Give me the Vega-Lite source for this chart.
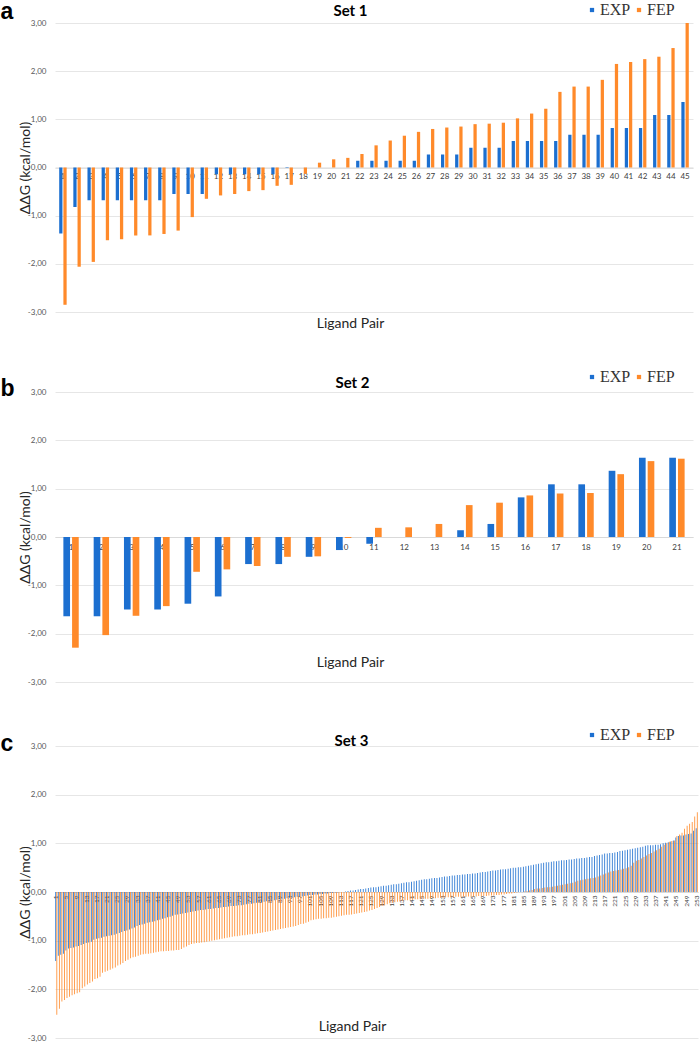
{
"$schema": "https://vega.github.io/schema/vega-lite/v6.json",
"autosize": {"type": "pad"},
"padding": {"left": 0, "top": -43, "right": 0, "bottom": 0},
"background": "white",
"bounds": "flush",
"spacing": 64,
"config": {"view": {"stroke": null}, "font": "Lato", "axis": {"labelFont": "Lato", "titleFont": "Lato"}},
"resolve": {"legend": {"color": "independent"}},
"datasets": {
"s1": [
{"pair":1,"EXP":-1.37,"FEP":-2.85},{"pair":2,"EXP":-0.82,"FEP":-2.06},{"pair":3,"EXP":-0.68,"FEP":-1.96},{"pair":4,"EXP":-0.68,"FEP":-1.51},{"pair":5,"EXP":-0.68,"FEP":-1.49},
{"pair":6,"EXP":-0.68,"FEP":-1.41},{"pair":7,"EXP":-0.68,"FEP":-1.41},{"pair":8,"EXP":-0.68,"FEP":-1.38},{"pair":9,"EXP":-0.55,"FEP":-1.31},{"pair":10,"EXP":-0.55,"FEP":-1.03},
{"pair":11,"EXP":-0.55,"FEP":-0.65},{"pair":12,"EXP":-0.14,"FEP":-0.58},{"pair":13,"EXP":-0.14,"FEP":-0.55},{"pair":14,"EXP":-0.14,"FEP":-0.49},{"pair":15,"EXP":-0.14,"FEP":-0.47},
{"pair":16,"EXP":-0.14,"FEP":-0.38},{"pair":17,"EXP":-0.01,"FEP":-0.36},{"pair":18,"EXP":0,"FEP":-0.13},{"pair":19,"EXP":0,"FEP":0.10},{"pair":20,"EXP":0,"FEP":0.17},
{"pair":21,"EXP":0,"FEP":0.20},{"pair":22,"EXP":0.14,"FEP":0.28},{"pair":23,"EXP":0.14,"FEP":0.46},{"pair":24,"EXP":0.14,"FEP":0.56},{"pair":25,"EXP":0.14,"FEP":0.66},
{"pair":26,"EXP":0.14,"FEP":0.74},{"pair":27,"EXP":0.27,"FEP":0.80},{"pair":28,"EXP":0.27,"FEP":0.83},{"pair":29,"EXP":0.27,"FEP":0.85},{"pair":30,"EXP":0.41,"FEP":0.90},
{"pair":31,"EXP":0.41,"FEP":0.91},{"pair":32,"EXP":0.41,"FEP":0.93},{"pair":33,"EXP":0.55,"FEP":1.02},{"pair":34,"EXP":0.55,"FEP":1.12},{"pair":35,"EXP":0.55,"FEP":1.22},
{"pair":36,"EXP":0.55,"FEP":1.57},{"pair":37,"EXP":0.68,"FEP":1.68},{"pair":38,"EXP":0.68,"FEP":1.68},{"pair":39,"EXP":0.68,"FEP":1.82},{"pair":40,"EXP":0.82,"FEP":2.15},
{"pair":41,"EXP":0.82,"FEP":2.19},{"pair":42,"EXP":0.82,"FEP":2.25},{"pair":43,"EXP":1.09,"FEP":2.30},{"pair":44,"EXP":1.09,"FEP":2.48},{"pair":45,"EXP":1.36,"FEP":3.00}
],
"s2": [
{"pair":1,"EXP":-1.64,"FEP":-2.29},{"pair":2,"EXP":-1.64,"FEP":-2.03},{"pair":3,"EXP":-1.50,"FEP":-1.63},{"pair":4,"EXP":-1.50,"FEP":-1.43},{"pair":5,"EXP":-1.38,"FEP":-0.72},
{"pair":6,"EXP":-1.23,"FEP":-0.67},{"pair":7,"EXP":-0.56,"FEP":-0.60},{"pair":8,"EXP":-0.56,"FEP":-0.41},{"pair":9,"EXP":-0.41,"FEP":-0.40},{"pair":10,"EXP":-0.27,"FEP":-0.02},
{"pair":11,"EXP":-0.14,"FEP":0.19},{"pair":12,"EXP":0,"FEP":0.20},{"pair":13,"EXP":0,"FEP":0.27},{"pair":14,"EXP":0.14,"FEP":0.66},{"pair":15,"EXP":0.27,"FEP":0.71},
{"pair":16,"EXP":0.82,"FEP":0.86},{"pair":17,"EXP":1.09,"FEP":0.90},{"pair":18,"EXP":1.09,"FEP":0.91},{"pair":19,"EXP":1.37,"FEP":1.30},{"pair":20,"EXP":1.64,"FEP":1.57},
{"pair":21,"EXP":1.64,"FEP":1.62}
],
"s3": [
{"pair":1,"EXP":-1.42,"FEP":-2.52},{"pair":2,"EXP":-1.31,"FEP":-2.40},{"pair":3,"EXP":-1.29,"FEP":-2.25},{"pair":4,"EXP":-1.27,"FEP":-2.22},{"pair":5,"EXP":-1.20,"FEP":-2.18},
{"pair":6,"EXP":-1.16,"FEP":-2.15},{"pair":7,"EXP":-1.15,"FEP":-2.12},{"pair":8,"EXP":-1.14,"FEP":-2.10},{"pair":9,"EXP":-1.12,"FEP":-2.08},{"pair":10,"EXP":-1.11,"FEP":-2.06},
{"pair":11,"EXP":-1.09,"FEP":-1.98},{"pair":12,"EXP":-1.07,"FEP":-1.94},{"pair":13,"EXP":-1.05,"FEP":-1.90},{"pair":14,"EXP":-1.04,"FEP":-1.87},{"pair":15,"EXP":-1.02,"FEP":-1.84},
{"pair":16,"EXP":-0.98,"FEP":-1.79},{"pair":17,"EXP":-0.96,"FEP":-1.77},{"pair":18,"EXP":-0.95,"FEP":-1.74},{"pair":19,"EXP":-0.94,"FEP":-1.66},{"pair":20,"EXP":-0.92,"FEP":-1.64},
{"pair":21,"EXP":-0.91,"FEP":-1.62},{"pair":22,"EXP":-0.90,"FEP":-1.60},{"pair":23,"EXP":-0.89,"FEP":-1.57},{"pair":24,"EXP":-0.88,"FEP":-1.55},{"pair":25,"EXP":-0.86,"FEP":-1.51},
{"pair":26,"EXP":-0.84,"FEP":-1.49},{"pair":27,"EXP":-0.82,"FEP":-1.46},{"pair":28,"EXP":-0.80,"FEP":-1.42},{"pair":29,"EXP":-0.79,"FEP":-1.39},{"pair":30,"EXP":-0.77,"FEP":-1.36},
{"pair":31,"EXP":-0.75,"FEP":-1.34},{"pair":32,"EXP":-0.73,"FEP":-1.33},{"pair":33,"EXP":-0.70,"FEP":-1.31},{"pair":34,"EXP":-0.68,"FEP":-1.29},{"pair":35,"EXP":-0.67,"FEP":-1.28},
{"pair":36,"EXP":-0.65,"FEP":-1.27},{"pair":37,"EXP":-0.63,"FEP":-1.27},{"pair":38,"EXP":-0.62,"FEP":-1.26},{"pair":39,"EXP":-0.61,"FEP":-1.25},{"pair":40,"EXP":-0.60,"FEP":-1.24},
{"pair":41,"EXP":-0.58,"FEP":-1.23},{"pair":42,"EXP":-0.57,"FEP":-1.22},{"pair":43,"EXP":-0.55,"FEP":-1.22},{"pair":44,"EXP":-0.54,"FEP":-1.21},{"pair":45,"EXP":-0.52,"FEP":-1.21},
{"pair":46,"EXP":-0.51,"FEP":-1.20},{"pair":47,"EXP":-0.49,"FEP":-1.20},{"pair":48,"EXP":-0.47,"FEP":-1.19},{"pair":49,"EXP":-0.46,"FEP":-1.19},{"pair":50,"EXP":-0.45,"FEP":-1.17},
{"pair":51,"EXP":-0.44,"FEP":-1.14},{"pair":52,"EXP":-0.43,"FEP":-1.12},{"pair":53,"EXP":-0.42,"FEP":-1.09},{"pair":54,"EXP":-0.41,"FEP":-1.07},{"pair":55,"EXP":-0.40,"FEP":-1.06},
{"pair":56,"EXP":-0.39,"FEP":-1.05},{"pair":57,"EXP":-0.38,"FEP":-1.05},{"pair":58,"EXP":-0.37,"FEP":-1.04},{"pair":59,"EXP":-0.37,"FEP":-1.03},{"pair":60,"EXP":-0.36,"FEP":-1.02},
{"pair":61,"EXP":-0.35,"FEP":-1.01},{"pair":62,"EXP":-0.35,"FEP":-1.00},{"pair":63,"EXP":-0.34,"FEP":-0.99},{"pair":64,"EXP":-0.33,"FEP":-0.98},{"pair":65,"EXP":-0.33,"FEP":-0.97},
{"pair":66,"EXP":-0.32,"FEP":-0.96},{"pair":67,"EXP":-0.31,"FEP":-0.95},{"pair":68,"EXP":-0.31,"FEP":-0.94},{"pair":69,"EXP":-0.30,"FEP":-0.93},{"pair":70,"EXP":-0.29,"FEP":-0.92},
{"pair":71,"EXP":-0.29,"FEP":-0.91},{"pair":72,"EXP":-0.28,"FEP":-0.91},{"pair":73,"EXP":-0.27,"FEP":-0.90},{"pair":74,"EXP":-0.27,"FEP":-0.89},{"pair":75,"EXP":-0.26,"FEP":-0.89},
{"pair":76,"EXP":-0.25,"FEP":-0.88},{"pair":77,"EXP":-0.24,"FEP":-0.87},{"pair":78,"EXP":-0.24,"FEP":-0.87},{"pair":79,"EXP":-0.23,"FEP":-0.86},{"pair":80,"EXP":-0.22,"FEP":-0.85},
{"pair":81,"EXP":-0.21,"FEP":-0.84},{"pair":82,"EXP":-0.21,"FEP":-0.83},{"pair":83,"EXP":-0.20,"FEP":-0.82},{"pair":84,"EXP":-0.19,"FEP":-0.81},{"pair":85,"EXP":-0.18,"FEP":-0.80},
{"pair":86,"EXP":-0.18,"FEP":-0.79},{"pair":87,"EXP":-0.17,"FEP":-0.78},{"pair":88,"EXP":-0.16,"FEP":-0.77},{"pair":89,"EXP":-0.15,"FEP":-0.76},{"pair":90,"EXP":-0.15,"FEP":-0.75},
{"pair":91,"EXP":-0.14,"FEP":-0.74},{"pair":92,"EXP":-0.13,"FEP":-0.73},{"pair":93,"EXP":-0.12,"FEP":-0.72},{"pair":94,"EXP":-0.12,"FEP":-0.71},{"pair":95,"EXP":-0.11,"FEP":-0.70},
{"pair":96,"EXP":-0.10,"FEP":-0.68},{"pair":97,"EXP":-0.09,"FEP":-0.66},{"pair":98,"EXP":-0.09,"FEP":-0.65},{"pair":99,"EXP":-0.08,"FEP":-0.63},{"pair":100,"EXP":-0.07,"FEP":-0.61},
{"pair":101,"EXP":-0.06,"FEP":-0.58},{"pair":102,"EXP":-0.06,"FEP":-0.57},{"pair":103,"EXP":-0.05,"FEP":-0.56},{"pair":104,"EXP":-0.05,"FEP":-0.55},{"pair":105,"EXP":-0.04,"FEP":-0.55},
{"pair":106,"EXP":-0.04,"FEP":-0.54},{"pair":107,"EXP":-0.03,"FEP":-0.54},{"pair":108,"EXP":-0.03,"FEP":-0.53},{"pair":109,"EXP":-0.02,"FEP":-0.53},{"pair":110,"EXP":-0.02,"FEP":-0.52},
{"pair":111,"EXP":-0.01,"FEP":-0.51},{"pair":112,"EXP":-0.01,"FEP":-0.50},{"pair":113,"EXP":0.00,"FEP":-0.49},{"pair":114,"EXP":0.00,"FEP":-0.48},{"pair":115,"EXP":0.01,"FEP":-0.47},
{"pair":116,"EXP":0.02,"FEP":-0.47},{"pair":117,"EXP":0.03,"FEP":-0.46},{"pair":118,"EXP":0.03,"FEP":-0.45},{"pair":119,"EXP":0.04,"FEP":-0.44},{"pair":120,"EXP":0.05,"FEP":-0.43},
{"pair":121,"EXP":0.06,"FEP":-0.42},{"pair":122,"EXP":0.06,"FEP":-0.41},{"pair":123,"EXP":0.07,"FEP":-0.40},{"pair":124,"EXP":0.08,"FEP":-0.38},{"pair":125,"EXP":0.09,"FEP":-0.37},
{"pair":126,"EXP":0.10,"FEP":-0.35},{"pair":127,"EXP":0.10,"FEP":-0.33},{"pair":128,"EXP":0.11,"FEP":-0.31},{"pair":129,"EXP":0.12,"FEP":-0.29},{"pair":130,"EXP":0.13,"FEP":-0.27},
{"pair":131,"EXP":0.13,"FEP":-0.25},{"pair":132,"EXP":0.14,"FEP":-0.23},{"pair":133,"EXP":0.15,"FEP":-0.22},{"pair":134,"EXP":0.16,"FEP":-0.21},{"pair":135,"EXP":0.16,"FEP":-0.20},
{"pair":136,"EXP":0.17,"FEP":-0.19},{"pair":137,"EXP":0.18,"FEP":-0.18},{"pair":138,"EXP":0.19,"FEP":-0.17},{"pair":139,"EXP":0.20,"FEP":-0.17},{"pair":140,"EXP":0.20,"FEP":-0.16},
{"pair":141,"EXP":0.21,"FEP":-0.16},{"pair":142,"EXP":0.22,"FEP":-0.15},{"pair":143,"EXP":0.23,"FEP":-0.15},{"pair":144,"EXP":0.24,"FEP":-0.15},{"pair":145,"EXP":0.25,"FEP":-0.14},
{"pair":146,"EXP":0.26,"FEP":-0.14},{"pair":147,"EXP":0.26,"FEP":-0.14},{"pair":148,"EXP":0.27,"FEP":-0.13},{"pair":149,"EXP":0.28,"FEP":-0.13},{"pair":150,"EXP":0.29,"FEP":-0.13},
{"pair":151,"EXP":0.29,"FEP":-0.12},{"pair":152,"EXP":0.30,"FEP":-0.12},{"pair":153,"EXP":0.31,"FEP":-0.12},{"pair":154,"EXP":0.32,"FEP":-0.11},{"pair":155,"EXP":0.32,"FEP":-0.11},
{"pair":156,"EXP":0.33,"FEP":-0.11},{"pair":157,"EXP":0.34,"FEP":-0.11},{"pair":158,"EXP":0.34,"FEP":-0.10},{"pair":159,"EXP":0.35,"FEP":-0.10},{"pair":160,"EXP":0.35,"FEP":-0.10},
{"pair":161,"EXP":0.36,"FEP":-0.10},{"pair":162,"EXP":0.36,"FEP":-0.10},{"pair":163,"EXP":0.37,"FEP":-0.09},{"pair":164,"EXP":0.37,"FEP":-0.09},{"pair":165,"EXP":0.38,"FEP":-0.09},
{"pair":166,"EXP":0.38,"FEP":-0.09},{"pair":167,"EXP":0.39,"FEP":-0.08},{"pair":168,"EXP":0.40,"FEP":-0.08},{"pair":169,"EXP":0.41,"FEP":-0.08},{"pair":170,"EXP":0.41,"FEP":-0.08},
{"pair":171,"EXP":0.42,"FEP":-0.07},{"pair":172,"EXP":0.43,"FEP":-0.07},{"pair":173,"EXP":0.44,"FEP":-0.07},{"pair":174,"EXP":0.44,"FEP":-0.06},{"pair":175,"EXP":0.45,"FEP":-0.06},
{"pair":176,"EXP":0.46,"FEP":-0.05},{"pair":177,"EXP":0.47,"FEP":-0.05},{"pair":178,"EXP":0.47,"FEP":-0.04},{"pair":179,"EXP":0.48,"FEP":-0.03},{"pair":180,"EXP":0.49,"FEP":-0.03},
{"pair":181,"EXP":0.50,"FEP":-0.02},{"pair":182,"EXP":0.50,"FEP":-0.01},{"pair":183,"EXP":0.51,"FEP":0.00},{"pair":184,"EXP":0.51,"FEP":0.00},{"pair":185,"EXP":0.52,"FEP":0.01},
{"pair":186,"EXP":0.53,"FEP":0.02},{"pair":187,"EXP":0.54,"FEP":0.03},{"pair":188,"EXP":0.55,"FEP":0.04},{"pair":189,"EXP":0.56,"FEP":0.06},{"pair":190,"EXP":0.57,"FEP":0.07},
{"pair":191,"EXP":0.58,"FEP":0.07},{"pair":192,"EXP":0.59,"FEP":0.08},{"pair":193,"EXP":0.60,"FEP":0.09},{"pair":194,"EXP":0.61,"FEP":0.10},{"pair":195,"EXP":0.61,"FEP":0.10},
{"pair":196,"EXP":0.62,"FEP":0.11},{"pair":197,"EXP":0.63,"FEP":0.12},{"pair":198,"EXP":0.63,"FEP":0.13},{"pair":199,"EXP":0.64,"FEP":0.14},{"pair":200,"EXP":0.65,"FEP":0.15},
{"pair":201,"EXP":0.65,"FEP":0.16},{"pair":202,"EXP":0.66,"FEP":0.17},{"pair":203,"EXP":0.67,"FEP":0.18},{"pair":204,"EXP":0.67,"FEP":0.19},{"pair":205,"EXP":0.68,"FEP":0.21},
{"pair":206,"EXP":0.69,"FEP":0.23},{"pair":207,"EXP":0.69,"FEP":0.24},{"pair":208,"EXP":0.70,"FEP":0.25},{"pair":209,"EXP":0.70,"FEP":0.26},{"pair":210,"EXP":0.71,"FEP":0.27},
{"pair":211,"EXP":0.72,"FEP":0.28},{"pair":212,"EXP":0.72,"FEP":0.29},{"pair":213,"EXP":0.74,"FEP":0.30},{"pair":214,"EXP":0.75,"FEP":0.32},{"pair":215,"EXP":0.76,"FEP":0.34},
{"pair":216,"EXP":0.77,"FEP":0.36},{"pair":217,"EXP":0.79,"FEP":0.38},{"pair":218,"EXP":0.79,"FEP":0.40},{"pair":219,"EXP":0.80,"FEP":0.42},{"pair":220,"EXP":0.80,"FEP":0.43},
{"pair":221,"EXP":0.81,"FEP":0.44},{"pair":222,"EXP":0.82,"FEP":0.45},{"pair":223,"EXP":0.84,"FEP":0.46},{"pair":224,"EXP":0.85,"FEP":0.48},{"pair":225,"EXP":0.86,"FEP":0.49},
{"pair":226,"EXP":0.87,"FEP":0.51},{"pair":227,"EXP":0.88,"FEP":0.54},{"pair":228,"EXP":0.89,"FEP":0.60},{"pair":229,"EXP":0.90,"FEP":0.64},{"pair":230,"EXP":0.91,"FEP":0.66},
{"pair":231,"EXP":0.92,"FEP":0.69},{"pair":232,"EXP":0.93,"FEP":0.72},{"pair":233,"EXP":0.95,"FEP":0.75},{"pair":234,"EXP":0.96,"FEP":0.78},{"pair":235,"EXP":0.96,"FEP":0.80},
{"pair":236,"EXP":0.96,"FEP":0.83},{"pair":237,"EXP":0.97,"FEP":0.86},{"pair":238,"EXP":0.97,"FEP":0.89},{"pair":239,"EXP":0.98,"FEP":0.93},{"pair":240,"EXP":1.00,"FEP":0.97},
{"pair":241,"EXP":1.01,"FEP":1.00},{"pair":242,"EXP":1.02,"FEP":1.03},{"pair":243,"EXP":1.04,"FEP":1.05},{"pair":244,"EXP":1.06,"FEP":1.06},{"pair":245,"EXP":1.12,"FEP":1.15},
{"pair":246,"EXP":1.15,"FEP":1.18},{"pair":247,"EXP":1.16,"FEP":1.22},{"pair":248,"EXP":1.16,"FEP":1.30},{"pair":249,"EXP":1.18,"FEP":1.36},{"pair":250,"EXP":1.19,"FEP":1.40},
{"pair":251,"EXP":1.20,"FEP":1.44},{"pair":252,"EXP":1.26,"FEP":1.55},{"pair":253,"EXP":1.31,"FEP":1.64}
]
},
"vconcat": [
{
"data": {"name": "s1"},
"width": 638, "height": 305,
"transform": [{"fold": ["EXP", "FEP"], "as": ["series", "v"]}],
"layer": [
{"transform": [{"filter": "datum.series == 'EXP'"}],
"mark": {"type": "bar", "width": {"band": 0.23}, "xOffset": -2.1},
"encoding": {
"x": {"field": "pair", "type": "ordinal", "scale": {"paddingInner": 0, "paddingOuter": 0.06},
"axis": {"orient": "bottom", "offset": -160.5, "labelAngle": 0, "labelFontSize": 8, "labelColor": "#404040", "labelPadding": 5, "ticks": false, "domainColor": "#d9d9d9", "title": "Ligand Pair", "titleX": 295, "titleY": 156, "titleAlign": "center", "titleBaseline": "middle", "titleFontSize": 14, "titleFontWeight": "normal", "titleColor": "#262626"}},
"y": {"field": "v", "type": "quantitative", "scale": {"domain": [-3, 3], "range": [289, 0], "nice": false},
"axis": {"orient": "left", "values": [-3, -2, -1, 0, 1, 2, 3], "labelExpr": "replace(replace(format(datum.value, '.2f'), '.', ','), '−', '-')", "domain": false, "ticks": false, "grid": true, "gridColor": "#e6e6e6", "labelFontSize": 8, "labelColor": "#595959", "labelPadding": 9, "title": "ΔΔG (kcal/mol)", "titleX": -30, "titleY": 144.5, "titleAngle": 270, "titleAlign": "center", "titleBaseline": "middle", "titleFontSize": 14, "titleFontWeight": "normal", "titleColor": "#262626"}},
"color": {"field": "series", "type": "nominal", "scale": {"domain": ["EXP", "FEP"], "range": ["#1C6FD0", "#FF8A2A"]},
"legend": {"orient": "none", "legendX": 529, "legendY": -21, "direction": "horizontal", "title": null, "symbolType": "square", "symbolSize": 18, "symbolStrokeWidth": 0, "labelFont": "Liberation Serif", "labelFontSize": 16, "labelColor": "#333333", "labelOffset": 0, "columnPadding": -5, "padding": 0}}
}},
{"transform": [{"filter": "datum.series == 'FEP'"}],
"mark": {"type": "bar", "width": {"band": 0.23}, "xOffset": 2.1},
"encoding": {
"x": {"field": "pair", "type": "ordinal", "axis": null},
"y": {"field": "v", "type": "quantitative", "axis": null},
"color": {"field": "series", "type": "nominal"}
}},
{"mark": {"type": "bar", "opacity": 0},
"encoding": {
"x": {"field": "pair", "type": "ordinal", "axis": {"orient": "top", "labels": false, "ticks": false, "domain": false, "title": "Set 1", "titleX": 295, "titleY": -8, "titleAlign": "center", "titleBaseline": "alphabetic", "titleFontSize": 15, "titleFontWeight": "bold", "titleColor": "#000000"}},
"y": {"field": "v", "type": "quantitative", "axis": {"orient": "right", "labels": false, "ticks": false, "domain": false, "grid": false, "title": "a", "titleX": -693, "titleY": -4.5, "titleAngle": 0, "titleAlign": "left", "titleBaseline": "alphabetic", "titleFont": "Liberation Sans", "titleFontSize": 23, "titleFontWeight": "bold", "titleColor": "#000000"}}
}}
],
"resolve": {"axis": {"x": "independent", "y": "independent"}}
},
{
"data": {"name": "s2"},
"width": 638, "height": 290,
"transform": [{"fold": ["EXP", "FEP"], "as": ["series", "v"]}],
"layer": [
{"transform": [{"filter": "datum.series == 'EXP'"}],
"mark": {"type": "bar", "width": {"band": 0.22}, "xOffset": -4.35},
"encoding": {
"x": {"field": "pair", "type": "ordinal", "scale": {"paddingInner": 0, "paddingOuter": 0.03},
"axis": {"orient": "bottom", "offset": -145, "labelAngle": 0, "labelFontSize": 8, "labelColor": "#404040", "labelPadding": 6, "ticks": false, "domainColor": "#d9d9d9", "title": "Ligand Pair", "titleX": 295, "titleY": 125, "titleAlign": "center", "titleBaseline": "middle", "titleFontSize": 14, "titleFontWeight": "normal", "titleColor": "#262626"}},
"y": {"field": "v", "type": "quantitative", "scale": {"domain": [-3, 3], "nice": false},
"axis": {"orient": "left", "values": [-3, -2, -1, 0, 1, 2, 3], "labelExpr": "replace(replace(format(datum.value, '.2f'), '.', ','), '−', '-')", "domain": false, "ticks": false, "grid": true, "gridColor": "#e6e6e6", "labelFontSize": 8, "labelColor": "#595959", "labelPadding": 9, "title": "ΔΔG (kcal/mol)", "titleX": -30, "titleY": 145, "titleAngle": 270, "titleAlign": "center", "titleBaseline": "middle", "titleFontSize": 14, "titleFontWeight": "normal", "titleColor": "#262626"}},
"color": {"field": "series", "type": "nominal", "scale": {"domain": ["EXP", "FEP"], "range": ["#1C6FD0", "#FF8A2A"]},
"legend": {"orient": "none", "legendX": 529, "legendY": -23, "direction": "horizontal", "title": null, "symbolType": "square", "symbolSize": 18, "symbolStrokeWidth": 0, "labelFont": "Liberation Serif", "labelFontSize": 16, "labelColor": "#333333", "labelOffset": 0, "columnPadding": -5, "padding": 0}}
}},
{"transform": [{"filter": "datum.series == 'FEP'"}],
"mark": {"type": "bar", "width": {"band": 0.22}, "xOffset": 4.35},
"encoding": {
"x": {"field": "pair", "type": "ordinal", "axis": null},
"y": {"field": "v", "type": "quantitative", "axis": null},
"color": {"field": "series", "type": "nominal"}
}},
{"mark": {"type": "bar", "opacity": 0},
"encoding": {
"x": {"field": "pair", "type": "ordinal", "axis": {"orient": "top", "labels": false, "ticks": false, "domain": false, "title": "Set 2", "titleX": 297, "titleY": -5, "titleAlign": "center", "titleBaseline": "alphabetic", "titleFontSize": 15, "titleFontWeight": "bold", "titleColor": "#000000"}},
"y": {"field": "v", "type": "quantitative", "axis": {"orient": "right", "labels": false, "ticks": false, "domain": false, "grid": false, "title": "b", "titleX": -693, "titleY": 3, "titleAngle": 0, "titleAlign": "left", "titleBaseline": "alphabetic", "titleFont": "Liberation Sans", "titleFontSize": 23, "titleFontWeight": "bold", "titleColor": "#000000"}}
}}
],
"resolve": {"axis": {"x": "independent", "y": "independent"}}
},
{
"data": {"name": "s3"},
"width": 643, "height": 292,
"transform": [{"fold": ["EXP", "FEP"], "as": ["series", "v"]}],
"layer": [
{"transform": [{"filter": "datum.series == 'EXP'"}],
"mark": {"type": "bar", "width": {"band": 0.32}, "xOffset": -0.55},
"encoding": {
"x": {"field": "pair", "type": "ordinal", "scale": {"paddingInner": 0, "paddingOuter": 0},
"axis": {"orient": "bottom", "offset": -146, "labelAngle": 270, "labelFontSize": 6.5, "labelColor": "#404040", "labelPadding": 3, "labelOverlap": false, "labelExpr": "(datum.value - 1) % 4 == 0 ? datum.label : ''", "ticks": false, "domainColor": "#d9d9d9", "title": "Ligand Pair", "titleX": 297, "titleY": 134, "titleAlign": "center", "titleBaseline": "middle", "titleFontSize": 14, "titleFontWeight": "normal", "titleColor": "#262626"}},
"y": {"field": "v", "type": "quantitative", "scale": {"domain": [-3, 3], "nice": false},
"axis": {"orient": "left", "values": [-3, -2, -1, 0, 1, 2, 3], "labelExpr": "replace(replace(format(datum.value, '.2f'), '.', ','), '−', '-')", "domain": false, "ticks": false, "grid": true, "gridColor": "#e6e6e6", "labelFontSize": 8, "labelColor": "#595959", "labelPadding": 9, "title": "ΔΔG (kcal/mol)", "titleX": -30, "titleY": 146, "titleAngle": 270, "titleAlign": "center", "titleBaseline": "middle", "titleFontSize": 14, "titleFontWeight": "normal", "titleColor": "#262626"}},
"color": {"field": "series", "type": "nominal", "scale": {"domain": ["EXP", "FEP"], "range": ["#1C6FD0", "#FF8A2A"]},
"legend": {"orient": "none", "legendX": 529, "legendY": -19, "direction": "horizontal", "title": null, "symbolType": "square", "symbolSize": 18, "symbolStrokeWidth": 0, "labelFont": "Liberation Serif", "labelFontSize": 16, "labelColor": "#333333", "labelOffset": 0, "columnPadding": -5, "padding": 0}}
}},
{"transform": [{"filter": "datum.series == 'FEP'"}],
"mark": {"type": "bar", "width": {"band": 0.32}, "xOffset": 0.55},
"encoding": {
"x": {"field": "pair", "type": "ordinal", "axis": null},
"y": {"field": "v", "type": "quantitative", "axis": null},
"color": {"field": "series", "type": "nominal"}
}},
{"mark": {"type": "bar", "opacity": 0},
"encoding": {
"x": {"field": "pair", "type": "ordinal", "axis": {"orient": "top", "labels": false, "ticks": false, "domain": false, "title": "Set 3", "titleX": 296, "titleY": -1, "titleAlign": "center", "titleBaseline": "alphabetic", "titleFontSize": 15, "titleFontWeight": "bold", "titleColor": "#000000"}},
"y": {"field": "v", "type": "quantitative", "axis": {"orient": "right", "labels": false, "ticks": false, "domain": false, "grid": false, "title": "c", "titleX": -698, "titleY": 4, "titleAngle": 0, "titleAlign": "left", "titleBaseline": "alphabetic", "titleFont": "Liberation Sans", "titleFontSize": 23, "titleFontWeight": "bold", "titleColor": "#000000"}}
}}
],
"resolve": {"axis": {"x": "independent", "y": "independent"}}
}
]
}
